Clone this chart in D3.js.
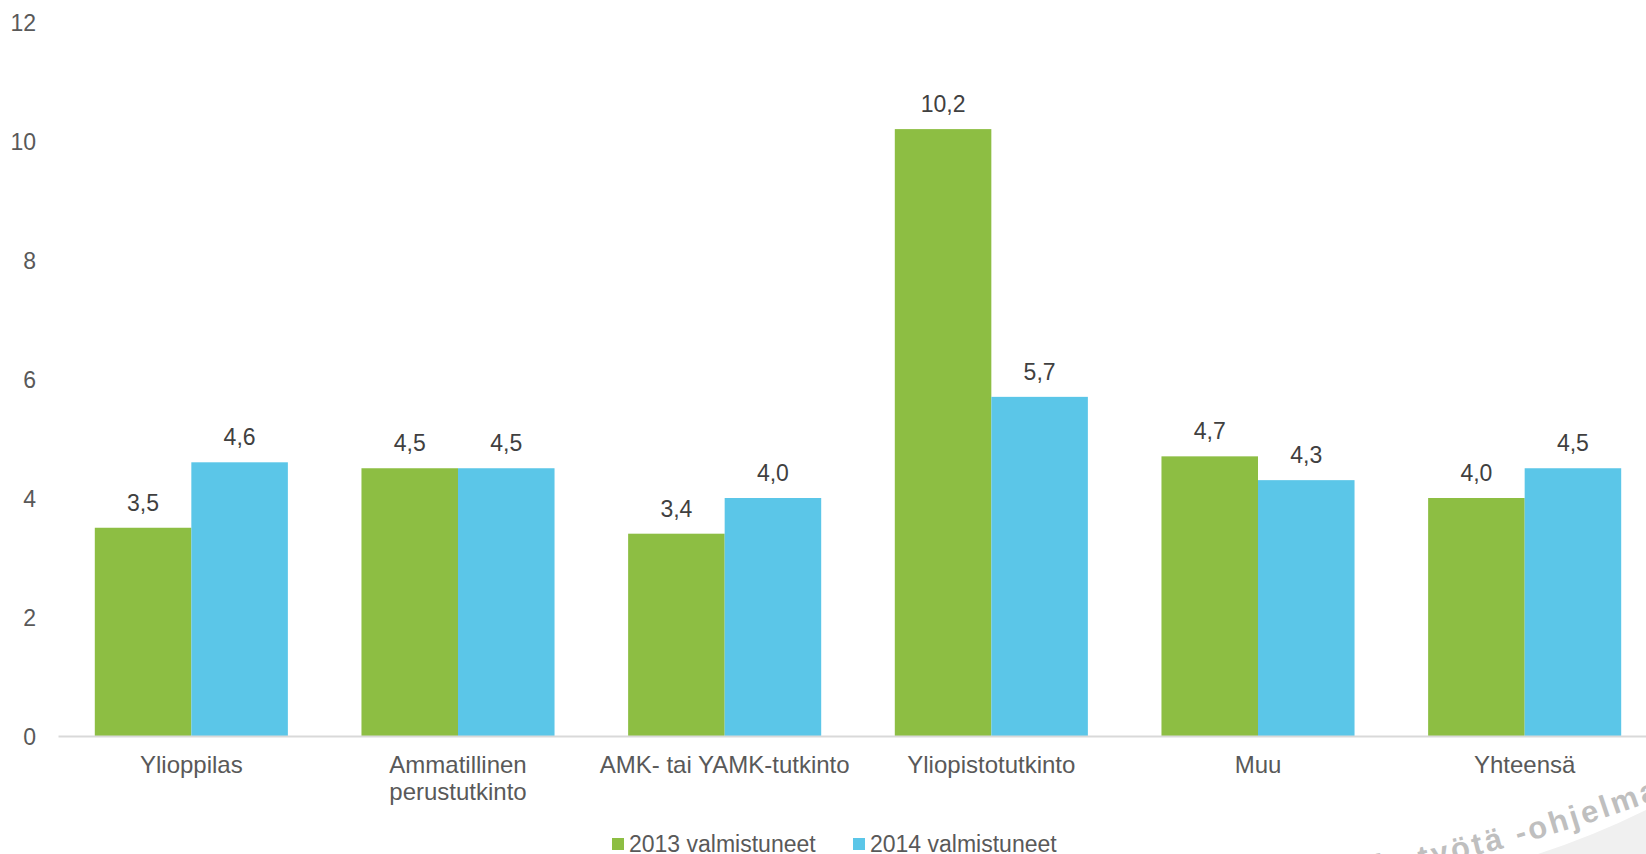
<!DOCTYPE html>
<html>
<head>
<meta charset="utf-8">
<script src="https://cdn.jsdelivr.net/npm/d3@7"></script>
<style>
  body { margin: 0; background: #fff; overflow: hidden; }
  text { font-family: "Liberation Sans", Arial, sans-serif; }
</style>
</head>
<body>
<svg></svg>
<script>
let width = 1646;
let height = 854;

let categories = [["Ylioppilas"], ["Ammatillinen", "perustutkinto"], ["AMK- tai YAMK-tutkinto"],
                  ["Yliopistotutkinto"], ["Muu"], ["Yhteensä"]];
let series = ["2013 valmistuneet", "2014 valmistuneet"];
let values2013 = [3.5, 4.5, 3.4, 10.2, 4.7, 4.0];
let values2014 = [4.6, 4.5, 4.0, 5.7, 4.3, 4.5];
let yTicks = [0, 2, 4, 6, 8, 10, 12];
let colors = ["#8dbe43", "#5bc6e8"];

let svg = d3.select("svg")
            .attr("width", width)
            .attr("height", height);

// watermark in bottom right corner (text follows a slight arc)
let wm = svg.append("g");
wm.append("path")
  .attr("d", "M1538,854 Q1600,834 1660,803 L1660,854 Z")
  .attr("fill", "#f0f0f0");
wm.append("path")
  .attr("id", "wmArc")
  .attr("d", "M1250,894 Q1500,870 1750,762")
  .attr("fill", "none");
wm.append("text")
  .attr("font-family", "DejaVu Sans, sans-serif")
  .attr("font-weight", "bold")
  .attr("font-size", 31)
  .attr("letter-spacing", 3)
  .attr("fill", "#bfbfbf")
  .append("textPath")
  .attr("href", "#wmArc")
  .attr("startOffset", 129)
  .text("ja työtä -ohjelma");

let x0 = d3.scaleBand()
           .domain(d3.range(categories.length))
           .range([58, 1658])
           .paddingInner(0.276)
           .paddingOuter(0.138);

let x1 = d3.scaleBand()
           .domain([0, 1])
           .range([0, x0.bandwidth()]);

let y = d3.scaleLinear()
          .domain([0, 12])
          .range([736, 22]);

let data = categories.map((c, i) => [values2013[i], values2014[i]]);

let groups = svg.selectAll(".grp")
  .data(data)
  .enter()
  .append("g")
  .attr("class", "grp")
  .attr("transform", (d, i) => "translate(" + x0(i) + ",0)");

groups.selectAll("rect")
  .data((d) => d.map((v, k) => ({ v: v, k: k })))
  .enter()
  .append("rect")
  .attr("x", (d) => x1(d.k))
  .attr("y", (d) => y(d.v))
  .attr("width", x1.bandwidth())
  .attr("height", (d) => y(0) - y(d.v))
  .attr("fill", (d) => colors[d.k]);

groups.selectAll(".lbl")
  .data((d) => d.map((v, k) => ({ v: v, k: k })))
  .enter()
  .append("text")
  .attr("class", "lbl")
  .attr("x", (d) => x1(d.k) + x1.bandwidth() / 2)
  .attr("y", (d) => y(d.v) - 17)
  .attr("text-anchor", "middle")
  .attr("font-size", 23)
  .attr("fill", "#404040")
  .text((d) => d.v.toFixed(1).replace(".", ","));

// y axis labels
let yAxis = svg.append("g")
   .attr("transform", "translate(36,0)")
   .call(d3.axisLeft(y).tickValues(yTicks).tickSize(0).tickPadding(0));
yAxis.select(".domain").remove();
yAxis.selectAll("text")
     .attr("font-size", 23)
     .attr("font-family", "Liberation Sans, Arial, sans-serif")
     .attr("fill", "#595959")
     .attr("dy", "0.35em");

// x axis line
let xAxis = svg.append("g")
   .attr("transform", "translate(0," + y(0) + ")")
   .call(d3.axisBottom(x0).tickSize(0).tickFormat(""));
xAxis.select(".domain")
     .attr("stroke", "#d9d9d9")
     .attr("stroke-width", 2);

let cat = svg.selectAll(".cat")
  .data(categories)
  .enter()
  .append("text")
  .attr("class", "cat")
  .attr("x", (d, i) => x0(i) + x0.bandwidth() / 2)
  .attr("y", 773)
  .attr("text-anchor", "middle")
  .attr("font-size", 24)
  .attr("fill", "#595959");

cat.selectAll("tspan")
   .data((d) => d)
   .enter()
   .append("tspan")
   .attr("x", function() { return d3.select(this.parentNode).attr("x"); })
   .attr("dy", (d, i) => i === 0 ? 0 : 27)
   .text((d) => d);

// legend
let legendX = [612, 853];
let legend = svg.selectAll(".leg")
  .data(series)
  .enter()
  .append("g")
  .attr("class", "leg")
  .attr("transform", (d, i) => "translate(" + legendX[i] + ",0)");

legend.append("rect")
  .attr("x", 0)
  .attr("y", 838)
  .attr("width", 12)
  .attr("height", 12)
  .attr("fill", (d, i) => colors[i]);

legend.append("text")
  .attr("x", 17)
  .attr("y", 852)
  .attr("font-size", 23)
  .attr("fill", "#595959")
  .text((d) => d);
</script>
</body>
</html>
